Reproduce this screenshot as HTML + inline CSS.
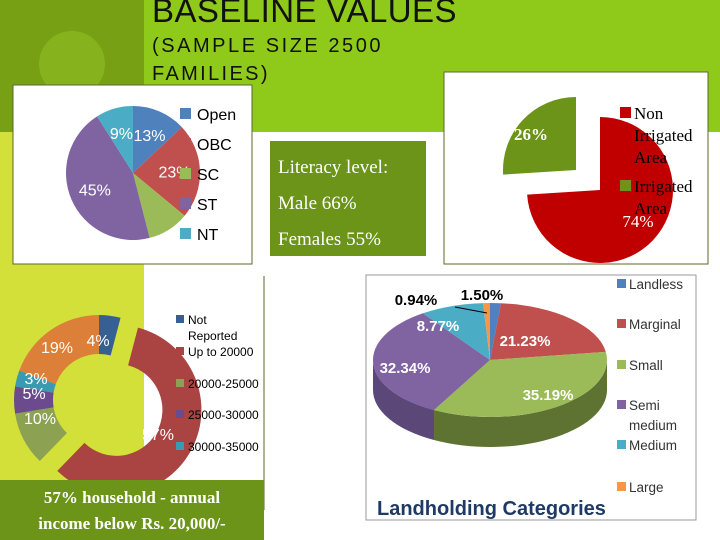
<!DOCTYPE html>
<html><head><meta charset="utf-8"><style>
html,body{margin:0;padding:0;width:720px;height:540px;overflow:hidden;background:#fff}
svg text{font-family:"Liberation Sans",sans-serif}
.serif{font-family:"Liberation Serif",serif}
</style></head><body>
<svg id="s" width="720" height="540" xmlns="http://www.w3.org/2000/svg">
<rect x="0" y="0" width="720" height="540" fill="#fff"/>
<rect x="144" y="0" width="576" height="132" fill="#8fca1a"/>
<rect x="0" y="0" width="144" height="132" fill="#78a014"/>
<circle cx="72" cy="64" r="33" fill="#86b21e"/>
<rect x="0" y="132" width="144" height="408" fill="#d4e03a"/>
<text x="152" y="22" font-size="33" letter-spacing="1.5" textLength="306" fill="#111">BASELINE VALUES</text>
<text x="152" y="52" font-size="20" letter-spacing="2.5" textLength="231" fill="#111">(SAMPLE SIZE 2500</text>
<text x="152" y="80" font-size="20" letter-spacing="2.5" textLength="118" fill="#111">FAMILIES)</text>

<rect x="13" y="85" width="239" height="179" fill="#fff" stroke="#5a6a2a" stroke-width="1"/>
<g id="caste"></g>
<rect x="270" y="141" width="156" height="115" fill="#6b9418"/>
<text class="serif" x="278" y="173" font-size="19" fill="#fff">Literacy level:</text>
<text class="serif" x="278" y="209" font-size="19" fill="#fff">Male 66%</text>
<text class="serif" x="278" y="245" font-size="19" fill="#fff">Females 55%</text>
<rect x="444" y="72" width="264" height="192" fill="#fff" stroke="#5a6a2a" stroke-width="1"/>
<g id="irr"></g>
<rect x="144" y="276" width="120" height="204" fill="#fff"/>
<line x1="264" y1="276" x2="264" y2="510" stroke="#5a6a2a"/>
<g id="inc"></g>
<rect x="0" y="480" width="264" height="60" fill="#6b9418"/>
<text class="serif" x="132" y="503" font-size="17" font-weight="bold" fill="#fff" text-anchor="middle">57% household - annual</text>
<text class="serif" x="132" y="529" font-size="17" font-weight="bold" fill="#fff" text-anchor="middle">income below Rs. 20,000/-</text>
<rect x="366" y="275" width="330" height="245" fill="#fff" stroke="#999"/>
<g id="land"></g>
<text x="377" y="515" font-size="20" font-weight="bold" fill="#1f3a64">Landholding Categories</text>
</svg>
<script>
const casteCats=["Open","OBC","SC","ST","NT"];
const casteVals=[13,23,10,45,9];
const incomeCats=["Not Reported","Up to 20000","20000-25000","25000-30000","30000-35000","Above 35000"];
const incomeVals=[4,57,10,5,3,19];
const irrCats=["Non Irrigated Area","Irrigated Area"];
const irrVals=[74,26];
const landCats=["Landless","Marginal","Small","Semi medium","Medium","Large"];
const landVals=[1.50,21.23,35.19,32.34,8.77,0.94];

const NS="http://www.w3.org/2000/svg";
function mk(tag,attrs,parent){const e=document.createElementNS(NS,tag);for(const k in attrs)e.setAttribute(k,attrs[k]);parent.appendChild(e);return e;}
function pt(cx,cy,rx,ry,a){return [cx+rx*Math.sin(a),cy-ry*Math.cos(a)];}
function wedge(cx,cy,r,a1,a2){const p1=pt(cx,cy,r,r,a1),p2=pt(cx,cy,r,r,a2);const lg=(a2-a1)>Math.PI?1:0;
 return `M${cx},${cy}L${p1[0]},${p1[1]}A${r},${r} 0 ${lg} 1 ${p2[0]},${p2[1]}Z`;}
function ring(cx,cy,ro,ri,a1,a2){const o1=pt(cx,cy,ro,ro,a1),o2=pt(cx,cy,ro,ro,a2),i2=pt(cx,cy,ri,ri,a2),i1=pt(cx,cy,ri,ri,a1);const lg=(a2-a1)>Math.PI?1:0;
 return `M${o1[0]},${o1[1]}A${ro},${ro} 0 ${lg} 1 ${o2[0]},${o2[1]}L${i2[0]},${i2[1]}A${ri},${ri} 0 ${lg} 0 ${i1[0]},${i1[1]}Z`;}
function angles(vals){const t=vals.reduce((a,b)=>a+b,0);let c=0;return vals.map(v=>{const a1=c/t*2*Math.PI;c+=v;return [a1,c/t*2*Math.PI];});}
function label(g,x,y,txt,size,fill,extra,name){const t=mk('text',Object.assign({x:x,y:y,'font-size':size,fill:fill,'text-anchor':'middle'},extra||{}),g);t.textContent=txt;
 
 return t;}

(function(){const g=document.getElementById('caste');const cols=["#4f81bd","#c0504d","#9bbb59","#8064a2","#4bacc6"];
 const cx=133,cy=173,r=67;const an=angles(casteVals);
 an.forEach((a,i)=>{const p=mk('path',{d:wedge(cx,cy,r,a[0],a[1]),fill:cols[i]},g);
  
  
  const m=(a[0]+a[1])/2;const lp=pt(cx,cy,r*0.62,r*0.62,m);
  if(casteCats[i]!=="SC") label(g,lp[0],lp[1]+6,casteVals[i]+'%',16,'#fff',{},'label-'+casteCats[i].toLowerCase());});
 casteCats.forEach((c,i)=>{const y=108+i*30;const s=mk('rect',{x:180,y:y,width:11,height:11,fill:cols[i]},g);
  
  
  const t=mk('text',{x:197,y:y+12,'font-size':16,fill:'#000'},g);t.textContent=c;
  
  });
})();

(function(){const g=document.getElementById('irr');const cols=["#c00000","#6b9418"];
 const cx=600,cy=190,r=73;const an=angles(irrVals);const offs=[[0,0],[-24,-20]];
 an.forEach((a,i)=>{const x=cx+offs[i][0],y=cy+offs[i][1];const p=mk('path',{d:wedge(x,y,r,a[0],a[1]),fill:cols[i]},g);
  
  });
 label(g,531,140,irrVals[1]+'%',17,'#fff',{'class':'serif','font-weight':'bold'},'label-irrigated');
 label(g,638,227,irrVals[0]+'%',17,'#fff',{'class':'serif'},'label-non-irrigated');
 const lines=[["Non","Irrigated","Area"],["Irrigated","Area"]];const ys=[107,180];
 lines.forEach((ls,i)=>{const s=mk('rect',{x:620,y:ys[i],width:11,height:11,fill:cols[i]},g);
  
  
  ls.forEach((l,j)=>{const t=mk('text',{x:634,y:ys[i]+12+j*22,'font-size':17,fill:'#000','class':'serif'},g);t.textContent=l;
   
   });});
})();

(function(){const g=document.getElementById('inc');const cols=["#376092","#a94442","#8ca252","#6b4a8e","#3a9ab2","#dc7f38"];
 const cx=99,cy=400,ro=85,ri=46;const an=angles(incomeVals);
 an.forEach((a,i)=>{const m=(a[0]+a[1])/2;const off=i==1?20:0;const x=cx+off*Math.sin(m),y=cy-off*Math.cos(m);
  const p=mk('path',{d:ring(x,y,ro,ri,a[0],a[1]),fill:cols[i]},g);
  
  });
 const lp=[[98,346],[158,440],[40,424],[34,399],[36,384],[57,353]];
 incomeVals.forEach((v,i)=>label(g,lp[i][0],lp[i][1],v+'%',16,'#fff',{},'label-income-'+i));
 const leg=[[["Not","Reported"],324],[["Up to 20000"],356],[["20000-25000"],388],[["25000-30000"],419],[["30000-35000"],451]];
 leg.forEach((l,i)=>{const s=mk('rect',{x:176,y:l[1]-9,width:8,height:8,fill:cols[i]},g);
  
  
  l[0].forEach((w,j)=>{const t=mk('text',{x:188,y:l[1]+j*16,'font-size':12,fill:'#000'},g);t.textContent=w;
   
   });});
})();

(function(){const g=document.getElementById('land');const cols=["#4f81bd","#c0504d","#9bbb59","#8064a2","#4bacc6","#f79646"];
 const side=["#3a5f8c","#8e3b39","#5e7232","#5b4778","#37808f","#b86f35"];
 const cx=490,cy=360,rx=117,ry=57,d=30;const an=angles(landVals);
 an.forEach((a,i)=>{const s=Math.max(a[0],Math.PI/2),e=Math.min(a[1],1.5*Math.PI);if(e<=s)return;
  const p1=pt(cx,cy,rx,ry,s),p2=pt(cx,cy,rx,ry,e);
  const path=`M${p1[0]},${p1[1]}A${rx},${ry} 0 0 1 ${p2[0]},${p2[1]}L${p2[0]},${p2[1]+d}A${rx},${ry} 0 0 0 ${p1[0]},${p1[1]+d}Z`;
  const p=mk('path',{d:path,fill:side[i]},g);
  
  });
 an.forEach((a,i)=>{const p1=pt(cx,cy,rx,ry,a[0]),p2=pt(cx,cy,rx,ry,a[1]);const lg=(a[1]-a[0])>Math.PI?1:0;
  const p=mk('path',{d:`M${cx},${cy}L${p1[0]},${p1[1]}A${rx},${ry} 0 ${lg} 1 ${p2[0]},${p2[1]}Z`,fill:cols[i]},g);
  
  });
 const lp=[[482,300,'#000'],[525,346,'#fff'],[548,400,'#fff'],[405,373,'#fff'],[438,331,'#fff'],[416,305,'#000']];
 landVals.forEach((v,i)=>label(g,lp[i][0],lp[i][1],v.toFixed(2)+'%',15,lp[i][2],{'font-weight':'bold'},'label-land-'+i));
 mk('line',{x1:455,y1:307,x2:487,y2:313,stroke:'#000','stroke-width':1},g);
 const ly=[289,329,370,410,450,492];
 landCats.forEach((c,i)=>{const s=mk('rect',{x:617,y:ly[i]-10,width:9,height:9,fill:cols[i]},g);
  
  
  const parts=c==="Semi medium"?["Semi","medium"]:[c];
  parts.forEach((w,j)=>{const t=mk('text',{x:629,y:ly[i]+j*20,'font-size':13.5,fill:'#333'},g);t.textContent=w;
   
   });});
})();
</script>
</body></html>
